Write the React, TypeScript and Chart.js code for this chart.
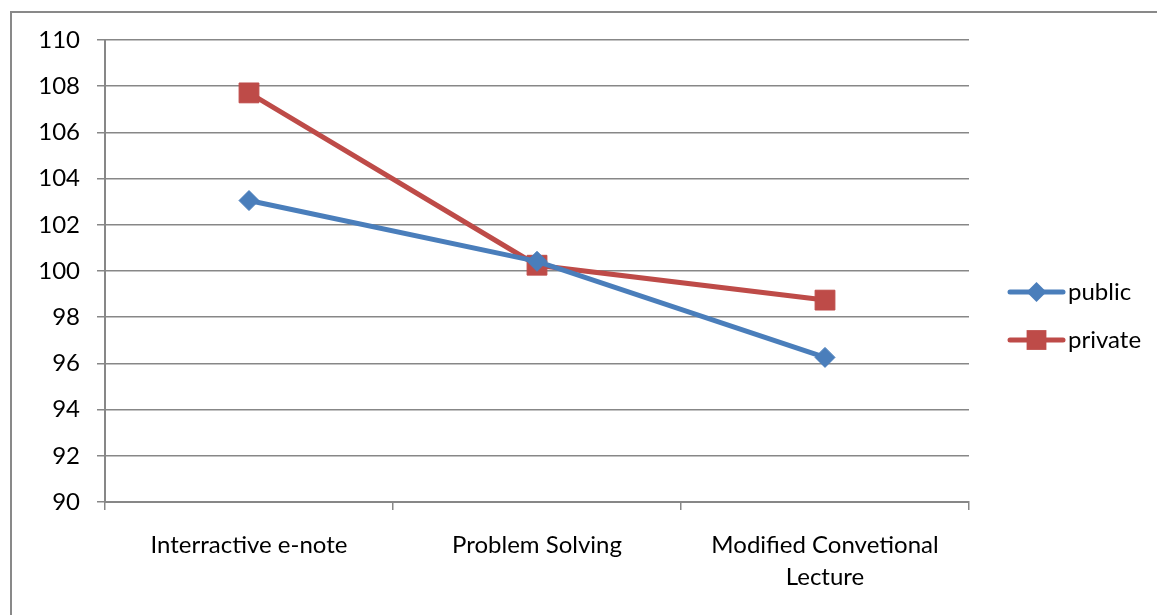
import React, { useEffect, useRef } from "react";
import { Chart, registerables } from "chart.js";

Chart.register(...registerables);

const categories: (string | string[])[] = [
  "Interractive e-note",
  "Problem Solving",
  ["Modified Convetional", "Lecture"],
];
const publicValues = [103.05, 100.42, 96.26];
const privateValues = [107.71, 100.25, 98.74];
const seriesNames = ["public", "private"];
const yMin = 90;
const yMax = 110;
const yStep = 2;

const BLUE = "#4A7EBB";
const RED = "#BE4B48";
const GRID = "#878787";
const FONT = "Lato";
const FONT_SIZE = 24;

const legendPlugin = {
  id: "excelLegend",
  afterDraw(chart: any) {
    const ctx = chart.ctx as CanvasRenderingContext2D;
    const area = chart.chartArea;
    const items = chart.data.datasets.map((ds: any) => ({
      label: ds.label,
      color: ds.borderColor,
      style: ds.pointStyle,
      radius: ds.pointRadius,
    }));
    const x0 = area.right + 41;
    const x1 = area.right + 94;
    const mx = (x0 + x1) / 2;
    const yStart = 292;
    const gap = 48;
    ctx.save();
    items.forEach((it: any, i: number) => {
      const y = yStart + i * gap;
      ctx.strokeStyle = it.color;
      ctx.lineWidth = 5;
      ctx.lineCap = "round";
      ctx.beginPath();
      ctx.moveTo(x0, y);
      ctx.lineTo(x1, y);
      ctx.stroke();
      ctx.fillStyle = it.color;
      ctx.beginPath();
      if (it.style === "rectRot") {
        const r = it.radius;
        ctx.moveTo(mx, y - r);
        ctx.lineTo(mx + r, y);
        ctx.lineTo(mx, y + r);
        ctx.lineTo(mx - r, y);
        ctx.closePath();
      } else {
        const s = it.radius * Math.SQRT1_2;
        ctx.rect(mx - s, y - s, 2 * s, 2 * s);
      }
      ctx.fill();
      ctx.fillStyle = "#000";
      ctx.font = `${FONT_SIZE}px ${FONT}`;
      ctx.textBaseline = "middle";
      ctx.textAlign = "left";
      ctx.fillText(it.label, x1 + 5, y);
    });
    ctx.restore();
  },
};

export default function App() {
  const ref = useRef<HTMLCanvasElement>(null);

  useEffect(() => {
    if (!ref.current) return;
    const chart = new Chart(ref.current, {
      type: "line",
      data: {
        labels: categories as any,
        datasets: [
          {
            label: seriesNames[0],
            data: publicValues,
            borderColor: BLUE,
            backgroundColor: BLUE,
            borderWidth: 5,
            pointStyle: "rectRot",
            pointRadius: 10,
            pointBorderWidth: 1,
            pointBackgroundColor: BLUE,
            pointBorderColor: BLUE,
            tension: 0,
          },
          {
            label: seriesNames[1],
            data: privateValues,
            borderColor: RED,
            backgroundColor: RED,
            borderWidth: 5,
            pointStyle: "rect",
            pointRadius: 14,
            pointBorderWidth: 1,
            pointBackgroundColor: RED,
            pointBorderColor: RED,
            tension: 0,
          },
        ],
      },
      options: {
        animation: false,
        responsive: false,
        devicePixelRatio: 1,
        layout: { padding: { top: 40, right: 188, bottom: 0, left: 0 } },
        plugins: {
          legend: { display: false },
          tooltip: { enabled: false },
        },
        scales: {
          x: {
            offset: true,
            grid: {
              offset: true,
              drawOnChartArea: false,
              drawTicks: true,
              tickLength: 8,
              color: GRID,
              lineWidth: 1.5,
            },
            border: { display: true, color: GRID, width: 2 },
            ticks: {
              color: "#000",
              padding: 19,
              maxRotation: 0,
              autoSkip: false,
              font: { family: FONT, size: FONT_SIZE, lineHeight: 1.33 },
            },
            afterFit(scale: any) {
              scale.height = 113;
            },
          },
          y: {
            min: yMin,
            max: yMax,
            ticks: {
              stepSize: yStep,
              color: "#000",
              padding: 17,
              font: { family: FONT, size: FONT_SIZE },
            },
            grid: {
              color: GRID,
              lineWidth: 1.5,
              tickLength: 8,
              drawTicks: true,
            },
            border: { display: true, color: GRID, width: 2 },
            afterFit(scale: any) {
              scale.width = 105;
            },
          },
        },
      },
      plugins: [legendPlugin],
    });
    return () => chart.destroy();
  }, []);

  return (
    <div
      style={{
        position: "fixed",
        left: 0,
        top: 0,
        width: 1157,
        height: 615,
        overflow: "hidden",
        background: "#fff",
      }}
    >
      <div
        style={{
          position: "absolute",
          left: 10,
          top: 11,
          width: 1400,
          height: 900,
          borderLeft: "2px solid #898989",
          borderTop: "2px solid #898989",
        }}
      />
      <canvas
        ref={ref}
        width={1157}
        height={615}
        style={{ position: "absolute", left: 0, top: 0, width: 1157, height: 615 }}
      />
    </div>
  );
}
